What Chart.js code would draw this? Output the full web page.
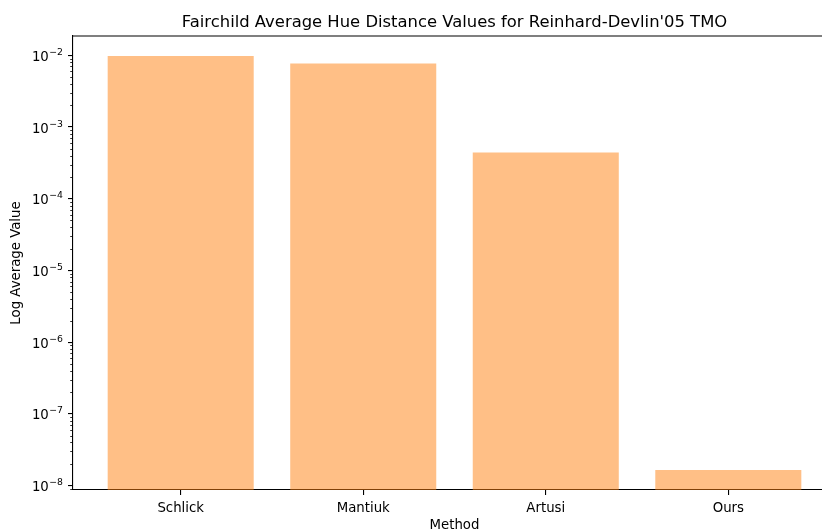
<!DOCTYPE html>
<html>
<head>
<meta charset="utf-8">
<script src="https://cdn.jsdelivr.net/npm/chart.js@4.4.1/dist/chart.umd.min.js"></script>
<style>
  html, body { margin: 0; padding: 0; background: #fff; overflow: hidden; }
  #wrap { width: 840px; height: 534px; }
</style>
</head>
<body>
<div id="wrap"><canvas id="c"></canvas></div>
<script>
// Methods compared and their average hue distance (log scale)
const methods = ['Schlick', 'Mantiuk', 'Artusi', 'Ours'];
const hueDistance = [0.0098, 0.0077, 0.00044, 1.65e-8];
// Powers of ten labelled on the value axis
const decadeExponents = [-8, -7, -6, -5, -4, -3, -2];

const FONT = 'DejaVu Sans';
const LABEL_SIZE = 13.3;

// Spines on top, minor log ticks and power-of-ten labels on the left axis
const framePlugin = {
  id: 'frame',
  afterDraw(chart) {
    const { ctx, chartArea: a, scales } = chart;
    const y = scales.y;
    ctx.save();
    ctx.strokeStyle = '#000';
    ctx.lineWidth = 1.1;
    ctx.beginPath();
    ctx.moveTo(a.left - 0.5, a.top);
    ctx.lineTo(a.right, a.top);
    ctx.stroke();
    ctx.lineWidth = 0.8;
    for (let e = -9; e <= -1; e++) {
      for (let m = 2; m <= 9; m++) {
        const v = m * Math.pow(10, e);
        if (v < y.min || v > y.max) continue;
        const py = Math.round(y.getPixelForValue(v)) + 0.5;
        ctx.beginPath();
        ctx.moveTo(a.left - 2.8, py);
        ctx.lineTo(a.left, py);
        ctx.stroke();
      }
    }
    // "10" with a raised exponent for each decade
    ctx.fillStyle = '#000';
    ctx.textBaseline = 'alphabetic';
    ctx.textAlign = 'left';
    const baseFont = LABEL_SIZE + 'px "' + FONT + '"';
    const supFont = (LABEL_SIZE * 0.7) + 'px "' + FONT + '"';
    decadeExponents.forEach(e => {
      const py = y.getPixelForValue(Math.pow(10, e));
      const exp = '\u2212' + Math.abs(e);
      ctx.font = supFont;
      const wExp = ctx.measureText(exp).width;
      ctx.font = baseFont;
      const wBase = ctx.measureText('10').width;
      const right = a.left - 10.5;
      const x0 = right - wExp - wBase;
      const baseline = py + 5.5;
      ctx.fillText('10', x0, baseline);
      ctx.font = supFont;
      ctx.fillText(exp, x0 + wBase + 0.5, baseline - 6);
    });
    ctx.restore();
  }
};

new Chart(document.getElementById('c'), {
  type: 'bar',
  data: {
    datasets: [{
      data: methods.map((m, i) => ({ x: i, y: hueDistance[i] })),
      backgroundColor: 'rgba(255,127,14,0.5)',
      borderWidth: 0,
      barPercentage: 0.8,
      categoryPercentage: 1.0
    }]
  },
  options: {
    responsive: true,
    maintainAspectRatio: false,
    animation: false,
    devicePixelRatio: 1,
    layout: { padding: { left: 9, right: 4, top: 0, bottom: 0 } },
    plugins: {
      legend: { display: false },
      tooltip: { enabled: false },
      title: {
        display: true,
        fullSize: false,
        text: "Fairchild Average Hue Distance Values for Reinhard-Devlin'05 TMO",
        color: '#000',
        font: { family: FONT, size: 16.4, weight: 'normal', lineHeight: 1.2 },
        padding: { top: 13, bottom: 3.3 }
      }
    },
    scales: {
      x: {
        type: 'linear',
        min: -0.59,
        max: 3.59,
        bounds: 'data',
        offset: false,
        afterBuildTicks: s => { s.ticks = methods.map((m, i) => ({ value: i })); },
        afterFit: s => { s.height = 44; },
        ticks: {
          autoSkip: false,
          maxRotation: 0,
          padding: 5.5,
          color: '#000',
          font: { family: FONT, size: LABEL_SIZE },
          callback: v => methods[v]
        },
        grid: { display: true, drawOnChartArea: false, drawTicks: true, tickLength: 5, color: '#000', lineWidth: 1.1, offset: false },
        border: { display: true, color: '#000', width: 1.1 },
        title: {
          display: true,
          text: 'Method',
          color: '#000',
          font: { family: FONT, size: LABEL_SIZE, lineHeight: 1.2 },
          padding: 0
        }
      },
      y: {
        type: 'logarithmic',
        min: 8.7e-9,
        max: 0.0186,
        bounds: 'data',
        afterBuildTicks: s => { s.ticks = decadeExponents.map(e => ({ value: Math.pow(10, e), major: true })); },
        afterFit: s => { s.width = 64; },
        ticks: {
          padding: 5,
          color: '#000',
          font: { family: FONT, size: LABEL_SIZE },
          callback: () => ''
        },
        grid: { display: true, drawOnChartArea: false, drawTicks: true, tickLength: 5, color: '#000', lineWidth: 1.1 },
        border: { display: true, color: '#000', width: 1.1 },
        title: {
          display: true,
          text: 'Log Average Value',
          color: '#000',
          font: { family: FONT, size: LABEL_SIZE, lineHeight: 1.2 },
          padding: 0
        }
      }
    }
  },
  plugins: [framePlugin]
});
</script>
</body>
</html>
